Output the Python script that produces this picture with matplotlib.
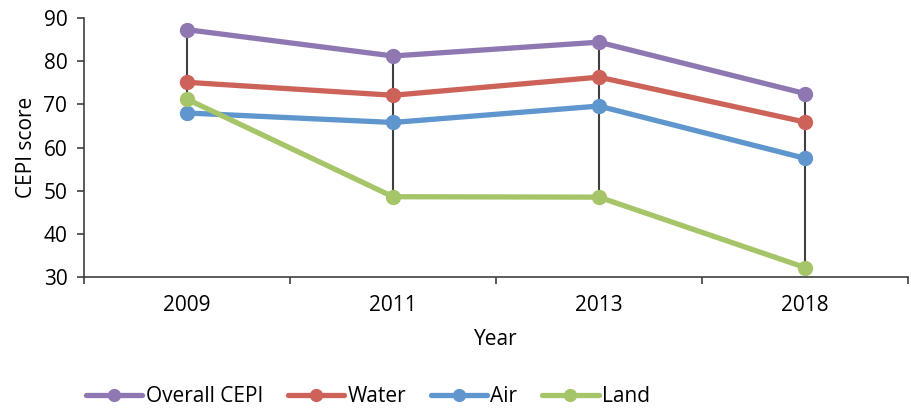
import matplotlib
matplotlib.use("Agg")
import matplotlib.pyplot as plt
import numpy as np

years = ["2009", "2011", "2013", "2018"]
overall = [87.3, 81.2, 84.4, 72.5]
water = [75.1, 72.1, 76.3, 65.9]
air = [68.0, 65.8, 69.6, 57.5]
land = [71.2, 48.6, 48.5, 32.2]

series = [("Overall CEPI", overall, "#8f78b2"),
          ("Water", water, "#cd6259"),
          ("Air", air, "#5f96cd"),
          ("Land", land, "#a6c468")]

plt.rcParams['font.family'] = ['Open Sans', 'DejaVu Sans']
FS = 15

fig = plt.figure(figsize=(9.12, 4.08), dpi=100)
ax = fig.add_axes([84/912, 1-277/408, (908-84)/912, (277-18)/408])

x = np.arange(len(years))
allv = np.array([overall, water, air, land])
ax.vlines(x, allv.min(axis=0), allv.max(axis=0), color="#404040", lw=1.5, zorder=1)

for name, vals, col in series:
    ax.plot(x, vals, color=col, lw=3.8, marker="o", ms=10, label=name, zorder=2,
            solid_capstyle="round")

ax.set_xlim(-0.5, len(years)-0.5)
ax.set_ylim(30, 90)
ax.set_yticks(range(30, 91, 10))
ax.set_xticks(x)
ax.set_xticklabels(years)
ax.set_xticks(np.arange(-0.5, len(years), 1), minor=True)
ax.tick_params(axis="x", which="major", length=0, labelsize=FS, pad=13)
ax.tick_params(axis="x", which="minor", length=5, width=1.2, color="#404040", direction="out")
ax.tick_params(axis="y", length=5, width=1.2, color="#404040", labelsize=FS, direction="out", pad=7)
for s in ["top", "right"]:
    ax.spines[s].set_visible(False)
for s in ["left", "bottom"]:
    ax.spines[s].set_color("#404040")
    ax.spines[s].set_linewidth(1.2)

ax.set_xlabel("Year", fontsize=FS, labelpad=9)
ax.set_ylabel("CEPI score", fontsize=FS, labelpad=5)

leg = fig.legend(loc="center", bbox_to_anchor=(368/912, 1-397/408), ncol=4, frameon=False,
                 fontsize=FS, handlelength=2.7, handletextpad=0.15, columnspacing=1.2,
                 markerscale=0.85)

fig.savefig("out.png", dpi=100)
